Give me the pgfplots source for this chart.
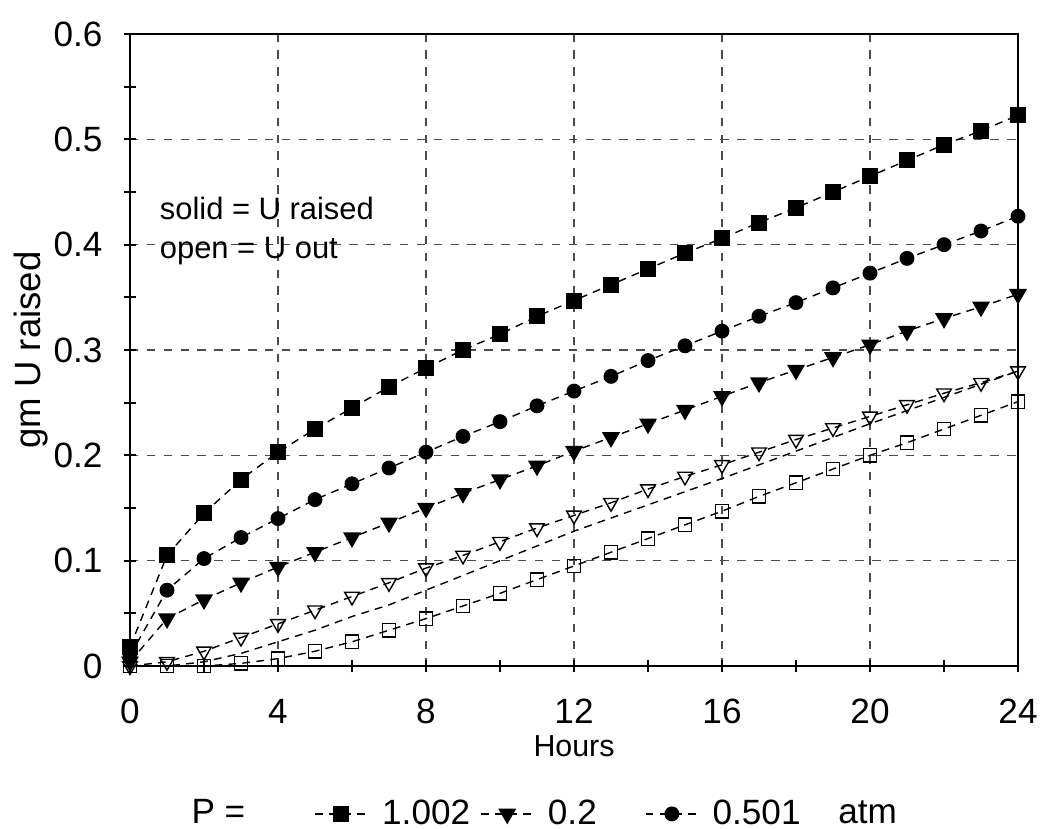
\documentclass[border=0pt]{standalone}
\usepackage{pgfplots}
\pgfplotsset{compat=1.18}
\usepackage{fontspec}
\setmainfont{Liberation Sans}

\begin{document}
\begin{tikzpicture}
\useasboundingbox (-1.625cm,-2.025cm) rectangle (11.375cm,8.325cm);
\begin{axis}[
    scale only axis,
    width=11.1cm, height=7.9cm,
    xmin=0, xmax=24, ymin=0, ymax=0.6,
    clip mode=individual,
    xtick={0,4,...,24}, minor xtick={2,6,...,22},
    ytick={0,0.1,0.2,0.3,0.4,0.5,0.6},
    minor ytick={0.05,0.15,0.25,0.35,0.45,0.55},
    yticklabels={0,0.1,0.2,0.3,0.4,0.5,0.6},
    tick pos=left, tick align=center,
    major tick length=4.5pt, minor tick length=4.5pt,
    every tick/.style={black, line width=0.8pt},
    axis line style={line width=1pt},
    grid=major,
    grid style={black!70, line width=0.45pt, dash pattern=on 3pt off 3pt},
    /pgf/number format/assume math mode=true,
    tick label style={font=\fontsize{12.5}{14}\selectfont},
    xticklabel style={yshift=-6pt},
    yticklabel style={xshift=-4pt},
    xlabel={Hours},
    xlabel style={font=\fontsize{10.8}{12}\selectfont, at={(axis description cs:0.5,-0.127)}, anchor=center},
    ylabel={gm U raised},
    ylabel style={font=\fontsize{13}{15}\selectfont, at={(axis description cs:-0.1115,0.5)}, anchor=center},
    legend columns=3,
    legend style={draw=none, fill=none, inner sep=0pt, at={(axis description cs:0.207,-0.234)}, anchor=west,
        font=\fontsize{12.5}{14}\selectfont,
        nodes={inner sep=0pt},
        /tikz/every odd column/.append style={column sep=0.17cm},
        /tikz/column 2/.style={column sep=0.125cm},
        /tikz/column 4/.style={column sep=0.6cm}},
    legend image code/.code={\draw[mark repeat=2,mark phase=2,#1] plot coordinates {(0cm,0cm) (0.33cm,0cm) (0.66cm,0cm)};},
    every axis plot/.append style={black, line width=0.5pt, dash pattern=on 2.8pt off 2.2pt},
]
% P = 1.002 atm, U raised
\addplot[mark=square*, mark size=2.6pt, mark options={solid}] coordinates {
  (0,0.018) (1,0.105) (2,0.145) (3,0.177) (4,0.203) (5,0.225) (6,0.245) (7,0.265)
  (8,0.283) (9,0.300) (10,0.315) (11,0.332) (12,0.347) (13,0.362) (14,0.377) (15,0.392)
  (16,0.406) (17,0.421) (18,0.435) (19,0.450) (20,0.465) (21,0.480) (22,0.495) (23,0.508) (24,0.523)
};
% P = 0.2 atm, U raised
\addplot[mark=triangle*, mark size=3.2pt, mark options={solid, rotate=180}] coordinates {
  (0,0.004) (1,0.045) (2,0.063) (3,0.079) (4,0.094) (5,0.108) (6,0.122) (7,0.136)
  (8,0.150) (9,0.164) (10,0.177) (11,0.190) (12,0.204) (13,0.217) (14,0.230) (15,0.243)
  (16,0.256) (17,0.269) (18,0.281) (19,0.293) (20,0.305) (21,0.318) (22,0.330) (23,0.341) (24,0.353)
};
% P = 0.501 atm, U raised
\addplot[mark=*, mark size=2.4pt, mark options={solid}] coordinates {
  (0,0.010) (1,0.072) (2,0.102) (3,0.122) (4,0.140) (5,0.158) (6,0.173) (7,0.188)
  (8,0.203) (9,0.218) (10,0.232) (11,0.247) (12,0.261) (13,0.275) (14,0.290) (15,0.304)
  (16,0.318) (17,0.332) (18,0.345) (19,0.359) (20,0.373) (21,0.387) (22,0.400) (23,0.413) (24,0.427)
};
\legend{1.002, 0.2, 0.501}
% U out, open triangles
\addplot[forget plot, mark=triangle, mark size=3pt, mark options={solid, rotate=180}] coordinates {
  (0,0.000) (1,0.004) (2,0.014) (3,0.027) (4,0.040) (5,0.053) (6,0.066) (7,0.079)
  (8,0.093) (9,0.105) (10,0.118) (11,0.131) (12,0.143) (13,0.155) (14,0.168) (15,0.180)
  (16,0.191) (17,0.203) (18,0.215) (19,0.226) (20,0.237) (21,0.248) (22,0.259) (23,0.269) (24,0.280)
};
% U out, open squares
\addplot[forget plot, mark=square, mark size=2.4pt, mark options={solid}] coordinates {
  (0,0.000) (1,0.000) (2,0.000) (3,0.0025) (4,0.007) (5,0.014) (6,0.023) (7,0.034)
  (8,0.045) (9,0.057) (10,0.069) (11,0.082) (12,0.095) (13,0.108) (14,0.121) (15,0.134)
  (16,0.147) (17,0.161) (18,0.174) (19,0.187) (20,0.200) (21,0.212) (22,0.225) (23,0.238) (24,0.251)
};
% U out, no marks
\addplot[forget plot] coordinates {
  (0,0.000) (1,0.000) (2,0.004) (3,0.012) (4,0.023) (5,0.034) (6,0.047) (7,0.058)
  (8,0.072) (10,0.100) (12,0.128) (14,0.153) (16,0.178) (18,0.204) (20,0.230) (22,0.255) (24,0.280)
};
\node[anchor=base west, font=\fontsize{11}{13}\selectfont, inner sep=0pt] at (rel axis cs:0.033,0.706) {solid = U raised};
\node[anchor=base west, font=\fontsize{11}{13}\selectfont, inner sep=0pt] at (rel axis cs:0.033,0.6456) {open = U out};
\node[anchor=base west, font=\fontsize{12.5}{14}\selectfont, inner sep=0pt] at (rel axis cs:0.0687,-0.2484) {P =};
\node[anchor=base west, font=\fontsize{12.5}{14}\selectfont, inner sep=0pt] at (rel axis cs:0.797,-0.2484) {atm};
\end{axis}
\end{tikzpicture}
\end{document}
